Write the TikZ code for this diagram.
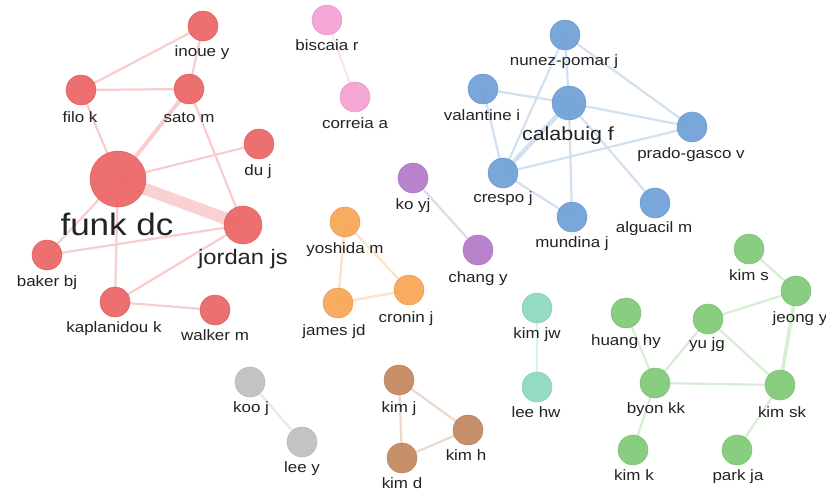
\documentclass[tikz,border=0pt]{standalone}
\usepackage{fontspec}
\setmainfont{Liberation Sans}
\newfontfamily\lblfont[FakeStretch=1.13]{Liberation Sans}
\usetikzlibrary{backgrounds}
\definecolor{cRed}{RGB}{236,100,100}
\definecolor{cPink}{RGB}{245,160,210}
\definecolor{cBlue}{RGB}{110,160,215}
\definecolor{cPurple}{RGB}{180,120,200}
\definecolor{cOrange}{RGB}{248,165,85}
\definecolor{cTeal}{RGB}{140,215,190}
\definecolor{cGreen}{RGB}{128,202,118}
\definecolor{cGrey}{RGB}{190,190,190}
\definecolor{cBrown}{RGB}{195,135,95}
\definecolor{txt}{RGB}{35,35,35}
\tikzset{
  nd/.style={circle, inner sep=0pt, minimum size=30pt, fill=#1, fill opacity=0.92, draw=#1!92!black, line width=0.4pt},
  ed/.style={draw=#1!32, line width=2.2pt, line cap=round},
  lbl/.style={anchor=base, inner sep=0pt, text=txt, font=\lblfont\fontsize{15}{15}\selectfont},
  big/.style={font=\lblfont\fontsize{#1}{#1}\selectfont},
}
\begin{document}
\begin{tikzpicture}[x=1pt,y=-1pt]
\useasboundingbox (0,0) rectangle (826,498);
% ---------- red cluster
\node[nd=cRed] (inoue) at (203,26) {};
\node[nd=cRed] (filo) at (81,90) {};
\node[nd=cRed] (sato) at (189,89) {};
\node[nd=cRed] (du) at (259,144) {};
\node[nd=cRed, minimum size=56pt] (funk) at (118,179) {};
\node[nd=cRed, minimum size=38pt] (jordan) at (243,225) {};
\node[nd=cRed] (baker) at (47,255) {};
\node[nd=cRed] (kapl) at (115,302) {};
\node[nd=cRed] (walker) at (215,310) {};
\node[lbl] (inoue-l) at (202,56) {inoue y};
\node[lbl] (filo-l) at (80,122) {filo k};
\node[lbl] (sato-l) at (189,122) {sato m};
\node[lbl] (du-l) at (258,175) {du j};
\node[lbl, big=31] (funk-l) at (117,235) {funk dc};
\node[lbl, big=21] (jordan-l) at (243,264) {jordan js};
\node[lbl] (baker-l) at (47,286) {baker bj};
\node[lbl] (kapl-l) at (114,332) {kaplanidou k};
\node[lbl] (walker-l) at (215,340) {walker m};
% ---------- pink
\node[nd=cPink] (biscaia) at (327,20) {};
\node[nd=cPink] (correia) at (355,97) {};
\node[lbl] (biscaia-l) at (327,50) {biscaia r};
\node[lbl] (correia-l) at (355,128) {correia a};
% ---------- blue
\node[nd=cBlue] (nunez) at (565,35) {};
\node[nd=cBlue] (valantine) at (483,89) {};
\node[nd=cBlue, minimum size=34pt] (calabuig) at (569,103) {};
\node[nd=cBlue] (prado) at (692,127) {};
\node[nd=cBlue] (crespo) at (503,173) {};
\node[nd=cBlue] (mundina) at (572,217) {};
\node[nd=cBlue] (alguacil) at (655,203) {};
\node[lbl] (nunez-l) at (564,65) {nunez-pomar j};
\node[lbl] (valantine-l) at (482,120) {valantine i};
\node[lbl, big=19] (calabuig-l) at (568,140) {calabuig f};
\node[lbl] (prado-l) at (691,158) {prado-gasco v};
\node[lbl] (crespo-l) at (503,202) {crespo j};
\node[lbl] (mundina-l) at (572,247) {mundina j};
\node[lbl] (alguacil-l) at (654,232) {alguacil m};
% ---------- purple
\node[nd=cPurple] (koyj) at (413,178) {};
\node[nd=cPurple] (chang) at (478,250) {};
\node[lbl] (koyj-l) at (413,209) {ko yj};
\node[lbl] (chang-l) at (478,282) {chang y};
% ---------- orange
\node[nd=cOrange] (yoshida) at (345,222) {};
\node[nd=cOrange] (cronin) at (409,290) {};
\node[nd=cOrange] (james) at (338,303) {};
\node[lbl] (yoshida-l) at (345,253) {yoshida m};
\node[lbl] (cronin-l) at (406,322) {cronin j};
\node[lbl] (james-l) at (334,335) {james jd};
% ---------- teal
\node[nd=cTeal] (kimjw) at (537,308) {};
\node[nd=cTeal] (leehw) at (537,387) {};
\node[lbl] (kimjw-l) at (537,338) {kim jw};
\node[lbl] (leehw-l) at (536,417) {lee hw};
% ---------- green
\node[nd=cGreen] (kims) at (749,249) {};
\node[nd=cGreen] (jeong) at (796,291) {};
\node[nd=cGreen] (huang) at (626,313) {};
\node[nd=cGreen] (yujg) at (708,319) {};
\node[nd=cGreen] (byon) at (655,383) {};
\node[nd=cGreen] (kimsk) at (780,385) {};
\node[nd=cGreen] (kimk) at (633,450) {};
\node[nd=cGreen] (park) at (737,450) {};
\node[lbl] (kims-l) at (749,280) {kim s};
\node[lbl] (jeong-l) at (800,322) {jeong y};
\node[lbl] (huang-l) at (626,345) {huang hy};
\node[lbl] (yujg-l) at (707,348) {yu jg};
\node[lbl] (byon-l) at (656,413) {byon kk};
\node[lbl] (kimsk-l) at (782,417) {kim sk};
\node[lbl] (kimk-l) at (634,480) {kim k};
\node[lbl] (park-l) at (738,480) {park ja};
% ---------- grey
\node[nd=cGrey] (koo) at (250,382) {};
\node[nd=cGrey] (leey) at (302,442) {};
\node[lbl] (koo-l) at (251,412) {koo j};
\node[lbl] (leey-l) at (302,472) {lee y};
% ---------- brown
\node[nd=cBrown] (kimj) at (399,380) {};
\node[nd=cBrown] (kimh) at (468,430) {};
\node[nd=cBrown] (kimd) at (402,458) {};
\node[lbl] (kimj-l) at (399,412) {kim j};
\node[lbl] (kimh-l) at (466,460) {kim h};
\node[lbl] (kimd-l) at (402,488) {kim d};
% ---------- edges
\begin{scope}[on background layer]
\fill[white] (0,0) rectangle (826,498);
\draw[ed=cRed] (inoue.center) -- (filo.center);
\draw[ed=cRed] (inoue.center) -- (sato.center);
\draw[ed=cRed] (filo.center) -- (sato.center);
\draw[ed=cRed] (filo.center) -- (funk.center);
\draw[ed=cRed, line width=4pt] (sato.center) -- (funk.center);
\draw[ed=cRed] (sato.center) -- (jordan.center);
\draw[ed=cRed] (funk.center) -- (du.center);
\draw[ed=cRed, draw=cRed!30, line width=12pt, line cap=butt] (funk.center) -- (jordan.center);
\draw[ed=cRed] (funk.center) -- (baker.center);
\draw[ed=cRed] (funk.center) -- (kapl.center);
\draw[ed=cRed] (baker.center) -- (jordan.center);
\draw[ed=cRed] (kapl.center) -- (jordan.center);
\draw[ed=cRed] (kapl.center) -- (walker.center);
\draw[ed=cPink] (biscaia.center) -- (correia.center);
\draw[ed=cBlue] (nunez.center) -- (calabuig.center);
\draw[ed=cBlue] (nunez.center) -- (crespo.center);
\draw[ed=cBlue] (nunez.center) -- (prado.center);
\draw[ed=cBlue] (valantine.center) -- (calabuig.center);
\draw[ed=cBlue] (valantine.center) -- (crespo.center);
\draw[ed=cBlue] (calabuig.center) -- (prado.center);
\draw[ed=cBlue, line width=4.5pt] (calabuig.center) -- (crespo.center);
\draw[ed=cBlue] (calabuig.center) -- (mundina.center);
\draw[ed=cBlue] (calabuig.center) -- (alguacil.center);
\draw[ed=cBlue] (crespo.center) -- (prado.center);
\draw[ed=cBlue] (crespo.center) -- (mundina.center);
\draw[ed=cPurple] (koyj.center) -- (chang.center);
\draw[ed=cOrange] (yoshida.center) -- (cronin.center);
\draw[ed=cOrange] (yoshida.center) -- (james.center);
\draw[ed=cOrange] (james.center) -- (cronin.center);
\draw[ed=cTeal] (kimjw.center) -- (leehw.center);
\draw[ed=cGreen] (kims.center) -- (jeong.center);
\draw[ed=cGreen] (jeong.center) -- (yujg.center);
\draw[ed=cGreen, line width=3.5pt] (jeong.center) -- (kimsk.center);
\draw[ed=cGreen] (yujg.center) -- (byon.center);
\draw[ed=cGreen] (yujg.center) -- (kimsk.center);
\draw[ed=cGreen] (byon.center) -- (kimsk.center);
\draw[ed=cGreen] (huang.center) -- (byon.center);
\draw[ed=cGreen] (byon.center) -- (kimk.center);
\draw[ed=cGreen] (kimsk.center) -- (park.center);
\draw[ed=cGrey] (koo.center) -- (leey.center);
\draw[ed=cBrown] (kimj.center) -- (kimh.center);
\draw[ed=cBrown] (kimj.center) -- (kimd.center);
\draw[ed=cBrown] (kimd.center) -- (kimh.center);
\end{scope}
\end{tikzpicture}
\end{document}
